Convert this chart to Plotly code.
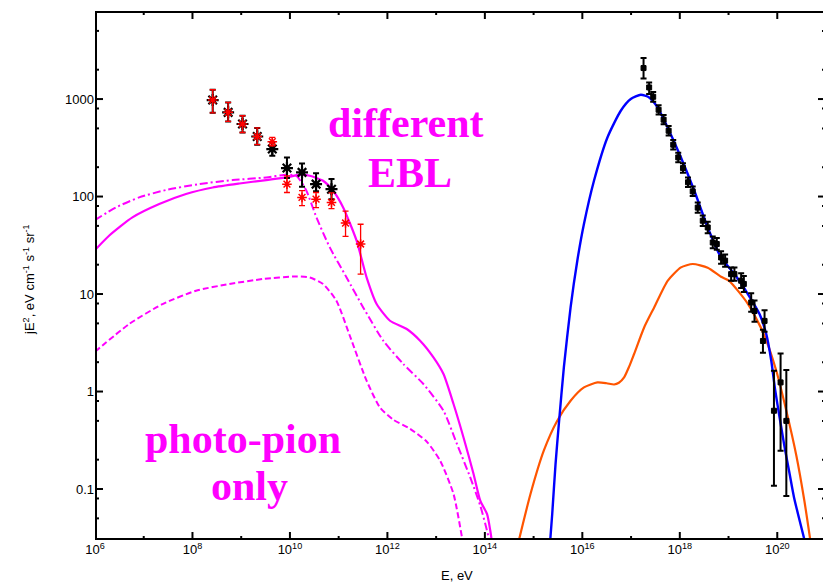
import numpy as np
import plotly.graph_objects as go

# ---------------- data ----------------
# model curves: log10(E/eV) and log10(jE^2)
solid_logE = [6.0, 6.288, 6.768, 7.318, 7.867, 8.415, 8.965, 9.514, 9.926, 10.2, 10.406, 10.68,
              10.886, 11.092, 11.368, 11.573, 11.779, 12.053, 12.397, 12.671, 12.945, 13.151,
              13.357, 13.562, 13.768, 13.906, 14.044, 14.112, 14.16]
solid_logJ = [1.451, 1.598, 1.786, 1.923, 2.026, 2.093, 2.134, 2.169, 2.196, 2.224, 2.213, 2.162,
              2.059, 1.888, 1.547, 1.170, 0.897, 0.726, 0.641, 0.521, 0.350, 0.179,
              -0.128, -0.471, -0.846, -1.120, -1.256, -1.428, -1.6]

dashdot_logE = [6.0, 6.426, 6.906, 7.456, 8.141, 8.827, 9.514, 9.926, 10.132, 10.338, 10.544, 10.818,
                11.162, 11.503, 11.915, 12.327, 12.739, 13.151, 13.427, 13.700, 13.906, 14.009,
                14.077, 14.11]
dashdot_logJ = [1.759, 1.888, 1.991, 2.067, 2.128, 2.169, 2.196, 2.224, 2.213, 2.059, 1.786, 1.478,
                1.170, 0.863, 0.521, 0.282, 0.077, -0.197, -0.538, -0.881, -1.171, -1.359,
                -1.496, -1.6]

dashed_logE = [6.0, 6.7, 7.386, 8.073, 8.759, 9.445, 10.132, 10.406, 10.68, 10.954, 11.229, 11.573,
               11.847, 12.121, 12.465, 12.809, 13.083, 13.357, 13.53, 13.56]
dashed_logJ = [0.408, 0.692, 0.897, 1.034, 1.103, 1.154, 1.181, 1.170, 1.103, 0.931, 0.572, 0.111,
               -0.163, -0.289, -0.382, -0.515, -0.710, -1.051, -1.496, -1.6]

blue_logE = [15.33, 15.382, 15.45, 15.518, 15.621, 15.759, 15.897, 16.033, 16.239, 16.515, 16.789,
             16.994, 17.2, 17.371, 17.544, 17.75, 18.024, 18.298, 18.573, 18.847, 19.121, 19.397,
             19.636, 19.774, 19.877, 19.959, 20.048, 20.151, 20.254, 20.344, 20.598]
blue_logJ = [-1.6, -1.256, -0.744, -0.333, 0.247, 0.863, 1.342, 1.718, 2.162, 2.606, 2.880,
             3.000, 3.044, 3.016, 2.914, 2.709, 2.401, 2.059, 1.683, 1.375, 1.205, 1.000,
             0.795, 0.590, 0.316, 0.008, -0.266, -0.573, -0.846, -1.086, -1.6]

orange_logE = [14.662, 14.936, 15.209, 15.485, 15.759, 16.033, 16.309, 16.5, 16.651, 16.75, 16.857,
               16.96, 17.062, 17.268, 17.474, 17.75, 18.024, 18.265, 18.573, 18.847, 19.012, 19.397,
               19.712, 19.980, 20.186, 20.392, 20.556, 20.7]
orange_logJ = [-1.6, -1.051, -0.607, -0.299, -0.094, 0.042, 0.093, 0.085, 0.072, 0.090, 0.145,
               0.255, 0.385, 0.657, 0.863, 1.136, 1.273, 1.308, 1.270, 1.177, 1.136, 0.900,
               0.603, 0.213, -0.197, -0.658, -1.120, -1.6]

# gamma-ray data (black set)
gb_logE = [8.415, 8.732, 9.027, 9.329, 9.638, 9.939, 10.248, 10.536, 10.853]
gb_J = [977, 730, 555, 413, 307, 196, 177, 134, 119]
gb_hi = [1245, 923, 674, 505, 359, 252, 218, 173, 151]
gb_lo = [723, 589, 454, 340, 262, 155, 126, 113, 94]

# gamma-ray data (red set)
gr_logE = [8.415, 8.732, 9.027, 9.329, 9.638, 9.939, 10.248, 10.536, 10.853, 11.141, 11.45]
gr_J = [977, 730, 555, 413, 365, 134, 98, 94, 87, 53.5, 32.6]
gr_hi = [1245, 923, 674, 505, 404, 163, 115, 110, 109, 71, 52]
gr_lo = [723, 589, 454, 340, 332, 110, 80.5, 77, 75, 39, 16]

# UHECR data
cr_logE = [17.256, 17.371, 17.454, 17.565, 17.668, 17.771, 17.865, 17.968, 18.065, 18.168,
           18.265, 18.368, 18.471, 18.573, 18.676, 18.759, 18.847, 18.930, 19.053, 19.121,
           19.259, 19.314, 19.465, 19.533, 19.739, 19.706, 19.932, 20.068, 20.186]
cr_J = [2080, 1315, 1055, 776, 614, 473, 340, 252, 196, 140,
        113, 77, 56.5, 48.2, 33.8, 32.6, 23.7, 22, 16, 16,
        13.7, 12.7, 8.2, 6.7, 5.3, 3.3, 0.635, 1.24, 0.50]
cr_hi = [2640, 1480, 1180, 865, 685, 528, 380, 282, 219, 157,
         127, 87, 64, 55, 39, 37.5, 27.5, 25.5, 18.7, 18.7,
         16.3, 15.3, 10.2, 8.6, 6.8, 4.3, 1.63, 2.46, 1.66]
cr_lo = [1626, 1125, 940, 695, 550, 424, 304, 225, 175, 125,
         101, 68, 50, 42, 29.5, 28.5, 20.5, 19, 13.7, 13.7,
         11.5, 10.5, 6.6, 5.2, 4.1, 2.5, 0.108, 0.247, 0.085]

x_tick_exps = [6, 8, 10, 12, 14, 16, 18, 20]
x_minor_exps = [7, 9, 11, 13, 15, 17, 19]
y_tick_vals = [0.1, 1, 10, 100, 1000]
y_tick_text = ["0.1", "1", "10", "100", "1000"]
y_minor_mult = [2, 5, 8]

X_RANGE = [6, 21]
Y_RANGE = [np.log10(0.03), np.log10(8000)]

# ---------------- figure ----------------
MAGENTA = "#FF00FF"
p10 = lambda a: np.power(10.0, np.array(a, dtype=float))

W, H = 823, 576
M = dict(l=87, r=5, t=3, b=44)
PW = W - M["l"] - M["r"]
PH = H - M["t"] - M["b"]
X_DEC_PX = PW / (X_RANGE[1] - X_RANGE[0])
Y_DEC_PX = PH / (Y_RANGE[1] - Y_RANGE[0])

fig = go.Figure()

def curve(lx, ly, color, width, dash="solid"):
    fig.add_trace(go.Scatter(x=p10(lx), y=p10(ly), mode="lines",
                             line=dict(color=color, width=width, dash=dash, shape="spline", smoothing=0.6),
                             hoverinfo="skip"))

curve(dashed_logE, dashed_logJ, MAGENTA, 2, "6px,3px")
curve(dashdot_logE, dashdot_logJ, MAGENTA, 2, "8px,3px,2px,3px")
curve(solid_logE, solid_logJ, MAGENTA, 2.2)
curve(orange_logE, orange_logJ, "#FF5500", 2.2)
curve(blue_logE, blue_logJ, "#0000FF", 2.4)

def points(lx, y, hi, lo, color, symbol, size, lw, ethick, ewidth):
    y = np.array(y, dtype=float)
    fig.add_trace(go.Scatter(
        x=p10(lx), y=y, mode="markers",
        marker=dict(symbol=symbol, size=size, color=color, line=dict(color=color, width=lw)),
        error_y=dict(type="data", symmetric=False,
                     array=np.array(hi, dtype=float) - y,
                     arrayminus=y - np.array(lo, dtype=float),
                     color=color, thickness=ethick, width=ewidth),
        cliponaxis=True, hoverinfo="skip"))

points(gb_logE, gb_J, gb_hi, gb_lo, "black", "asterisk-open", 10, 2.2, 2, 3)
points(gr_logE, gr_J, gr_hi, gr_lo, "#FF0000", "asterisk-open", 8, 1.5, 1.3, 3)
points(cr_logE, cr_J, cr_hi, cr_lo, "black", "square", 5, 1, 2, 3)

# ---- frame and tick marks on all four sides (drawn as line traces) ----
x0, x1 = X_RANGE
y0, y1 = Y_RANGE
fx = [x0, x1, x1, x0, x0]
fy = [y0, y0, y1, y1, y0]
fig.add_trace(go.Scatter(x=p10(fx), y=p10(fy), mode="lines",
                         line=dict(color="black", width=4), hoverinfo="skip"))

tx, ty = [], []
def xtick(e, length_px):
    d = length_px / Y_DEC_PX
    tx.extend([e, e, None, e, e, None])
    ty.extend([y0, y0 + d, None, y1 - d, y1, None])

def ytick(lv, length_px):
    d = length_px / X_DEC_PX
    tx.extend([x0, x0 + d, None, x1 - d, x1, None])
    ty.extend([lv, lv, None, lv, lv, None])

for e in x_tick_exps:
    xtick(e, 8)
for e in x_minor_exps:
    xtick(e, 4)
for v in y_tick_vals:
    ytick(np.log10(v), 8)
for e in range(-2, 4):
    for m in y_minor_mult:
        lv = np.log10(m) + e
        if y0 <= lv <= y1:
            ytick(lv, 4)

fig.add_trace(go.Scatter(
    x=[None if v is None else 10.0 ** v for v in tx],
    y=[None if v is None else 10.0 ** v for v in ty],
    mode="lines", line=dict(color="black", width=2), hoverinfo="skip", connectgaps=False))

tickfont = dict(family="Liberation Sans", size=13, color="black")
fig.update_layout(
    xaxis=dict(type="log", range=X_RANGE, showline=False, ticks="inside", ticklen=8,
               tickcolor="rgba(0,0,0,0)", showgrid=False, zeroline=False, tickfont=tickfont,
               tickmode="array", tickvals=[10.0 ** e for e in x_tick_exps],
               ticktext=["10<sup>%d</sup>" % e for e in x_tick_exps]),
    yaxis=dict(type="log", range=Y_RANGE, showline=False, ticks="inside", ticklen=8,
               tickcolor="rgba(0,0,0,0)", showgrid=False, zeroline=False, tickfont=tickfont,
               tickmode="array", tickvals=y_tick_vals, ticktext=y_tick_text),
)

big = dict(family="Liberation Serif", size=42, color=MAGENTA)
annots = [
    dict(text="<b>different</b>", x=0.4252, y=0.7892),
    dict(text="<b>EBL</b>", x=0.4316, y=0.6947),
    dict(text="<b>photo-pion</b>", x=0.2029, y=0.1909),
    dict(text="<b>only</b>", x=0.2107, y=0.1021),
]
for a in annots:
    fig.add_annotation(xref="paper", yref="paper", xanchor="center", yanchor="middle",
                       showarrow=False, font=big, **a)

fig.add_annotation(xref="paper", yref="paper", x=-0.0903, y=0.4934, textangle=-90,
                   xanchor="center", yanchor="middle", showarrow=False,
                   text="jE<sup>2</sup>, eV cm<sup>-1</sup> s<sup>-1</sup> sr<sup>-1</sup>",
                   font=dict(family="Liberation Sans", size=13, color="black"))
fig.add_annotation(xref="paper", yref="paper", x=0.495, y=-0.0662,
                   xanchor="center", yanchor="middle", showarrow=False,
                   text="E, eV", font=dict(family="Liberation Sans", size=13, color="black"))

# the page body adds an 8 px offset, so the figure is 8 px smaller and the margins compensate
fig.update_layout(width=W, height=H, autosize=False,
                  margin=M,
                  plot_bgcolor="white", paper_bgcolor="white", showlegend=False,
                  font=dict(family="Liberation Sans", color="black"))

fig.write_html("out.html")
